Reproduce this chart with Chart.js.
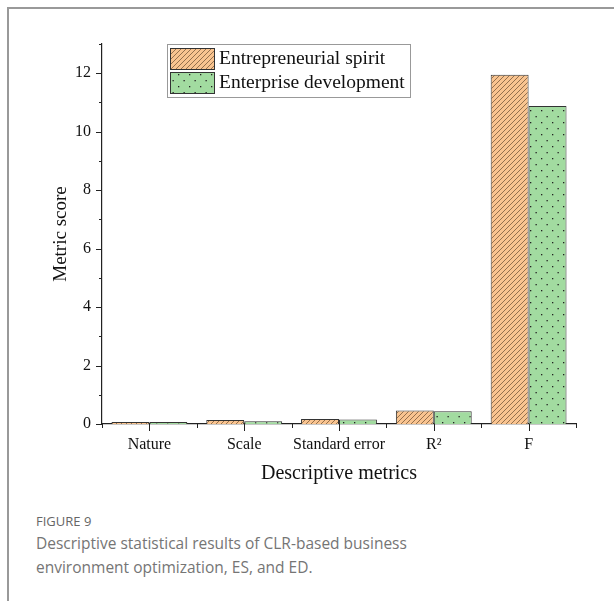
<!DOCTYPE html>
<html>
<head>
<meta charset="utf-8">
<script src="https://cdn.jsdelivr.net/npm/chart.js@4.4.1/dist/chart.umd.min.js"></script>
<style>
  html, body { margin: 0; padding: 0; background: #fff; }
  body { width: 614px; height: 601px; position: relative; overflow: hidden; }
  #frame {
    position: absolute; left: 7px; top: 7px; right: -10px; bottom: -10px;
    border-top: 2px solid #999; border-left: 2px solid #999;
  }
  #wrap { position: absolute; left: 0; top: 0; width: 614px; height: 490px; }
  #figLabel {
    position: absolute; left: 36px; top: 512px;
    font-family: "Open Sans", sans-serif; font-size: 13px; color: #666;
  }
  #caption {
    position: absolute; left: 36px; top: 531px; width: 560px;
    font-family: "Open Sans", sans-serif; font-size: 15.5px; line-height: 24px; color: #757575;
  }
</style>
</head>
<body>
<div id="frame"></div>
<div id="wrap"><canvas id="chart"></canvas></div>
<div id="figLabel">FIGURE 9</div>
<div id="caption">Descriptive statistical results of CLR-based business<br>environment optimization, ES, and ED.</div>
<script>
// Values
const categories = ['Nature', 'Scale', 'Standard error', 'R\u00B2', 'F'];
const spiritScores = [0.07, 0.14, 0.17, 0.46, 11.95];
const developmentScores = [0.07, 0.09, 0.15, 0.44, 10.88];
const yTicks = [0, 2, 4, 6, 8, 10, 12];

// Fill patterns: hatched orange, dotted green
function makeHatch() {
    const c = document.createElement('canvas');
    c.width = 5; c.height = 5;
    const g = c.getContext('2d');
    g.fillStyle = '#f9c490';
    g.fillRect(0, 0, 5, 5);
    g.strokeStyle = '#7a5a3c';
    g.lineWidth = 0.8;
    g.beginPath();
    g.moveTo(0, 5); g.lineTo(5, 0);
    g.moveTo(-1, 1); g.lineTo(1, -1);
    g.moveTo(4, 6); g.lineTo(6, 4);
    g.stroke();
    return g.createPattern(c, 'repeat');
}

function makeDots() {
    const c = document.createElement('canvas');
    c.width = 11; c.height = 12;
    const g = c.getContext('2d');
    g.fillStyle = '#a2dba0';
    g.fillRect(0, 0, 11, 12);
    g.fillStyle = '#222';
    g.fillRect(2, 2, 1.3, 1.3);
    g.fillRect(7.5, 8, 1.3, 1.3);
    return g.createPattern(c, 'repeat');
}

const hatch = makeHatch();
const dots = makeDots();

// Draw tick marks (major and minor) through the scales
const tickMarks = {
    id: 'tickMarks',
    afterDraw(chart) {
        const ctx = chart.ctx;
        const x = chart.scales.x, y = chart.scales.y;
        ctx.save();
        ctx.strokeStyle = '#222';
        ctx.lineWidth = 1;
        ctx.beginPath();
        for (let v = 0; v <= 13; v++) {
            const py = Math.round(y.getPixelForValue(v)) + 0.5;
            const len = v % 2 === 0 ? 6 : 3;
            ctx.moveTo(y.right, py); ctx.lineTo(y.right - len, py);
        }
        const n = categories.length;
        const step = (x.right - x.left) / n;
        for (let i = 0; i <= n; i++) {
            const px = Math.round(x.left + i * step) + 0.5;
            ctx.moveTo(px, x.top); ctx.lineTo(px, x.top + 4);
        }
        categories.forEach((c, i) => {
            const px = Math.round(x.getPixelForValue(i)) + 0.5;
            ctx.moveTo(px, x.top); ctx.lineTo(px, x.top + 7);
        });
        ctx.stroke();
        ctx.restore();
    }
};

// Boxed legend inside the plot
const boxLegend = {
    id: 'boxLegend',
    afterDraw(chart) {
        const ctx = chart.ctx;
        const left = 167, top = 44, w = 243, h = 53;
        ctx.save();
        ctx.fillStyle = '#fff';
        ctx.fillRect(left, top, w, h);
        ctx.strokeStyle = '#999';
        ctx.lineWidth = 1;
        ctx.strokeRect(left + 0.5, top + 0.5, w, h);
        ctx.font = '19.5px "Liberation Serif", "Times New Roman", serif';
        ctx.textBaseline = 'middle';
        chart.data.datasets.forEach((ds, i) => {
            const sy = top + 4 + i * 24;
            ctx.fillStyle = ds.backgroundColor;
            ctx.fillRect(left + 3, sy, 44, 21);
            ctx.strokeStyle = '#333';
            ctx.strokeRect(left + 3.5, sy + 0.5, 44, 21);
            ctx.fillStyle = '#111';
            ctx.fillText(ds.label, left + 52, sy + 11);
        });
        ctx.restore();
    }
};

new Chart(document.getElementById('chart'), {
    type: 'bar',
    data: {
        labels: categories,
        datasets: [
            {
                label: 'Entrepreneurial spirit',
                data: spiritScores,
                backgroundColor: hatch,
                borderColor: '#333',
                borderWidth: 1
            },
            {
                label: 'Enterprise development',
                data: developmentScores,
                backgroundColor: dots,
                borderColor: '#333',
                borderWidth: 1
            }
        ]
    },
    options: {
        responsive: true,
        maintainAspectRatio: false,
        animation: false,
        layout: { padding: { top: 44, right: 38, left: 0, bottom: 0 } },
        plugins: {
            legend: { display: false },
            tooltip: { enabled: false }
        },
        datasets: {
            bar: { categoryPercentage: 0.8, barPercentage: 1 }
        },
        scales: {
            x: {
                grid: { display: false, drawTicks: false },
                border: { color: '#222', width: 1.2 },
                ticks: {
                    color: '#111',
                    padding: 11,
                    maxRotation: 0,
                    minRotation: 0,
                    autoSkip: false,
                    font: { family: '"Liberation Serif", serif', size: 16 }
                },
                title: {
                    display: true,
                    text: 'Descriptive metrics',
                    color: '#111',
                    padding: { top: 3 },
                    font: { family: '"Liberation Serif", serif', size: 20 }
                },
                afterFit(scale) { scale.height = 66; }
            },
            y: {
                min: 0,
                max: 13,
                grid: { display: false, drawTicks: false },
                border: { color: '#222', width: 1.2 },
                afterBuildTicks(scale) {
                    scale.ticks = yTicks.map(v => ({ value: v }));
                },
                ticks: {
                    color: '#111',
                    padding: 11,
                    font: { family: '"Liberation Serif", serif', size: 16 }
                },
                title: {
                    display: true,
                    text: 'Metric score',
                    color: '#111',
                    padding: { top: 50, bottom: 0 },
                    font: { family: '"Liberation Serif", serif', size: 19 }
                },
                afterFit(scale) { scale.width = 102; }
            }
        }
    },
    plugins: [tickMarks, boxLegend]
});
</script>
</body>
</html>
